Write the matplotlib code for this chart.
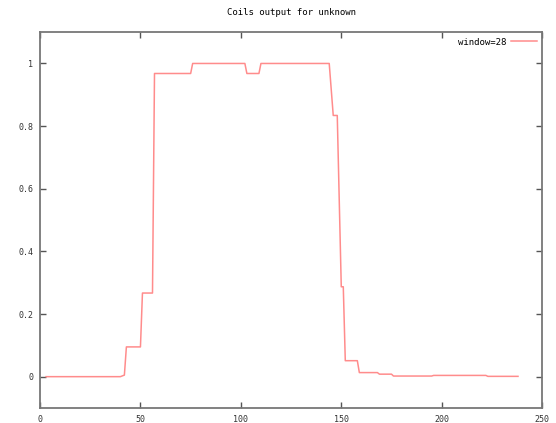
import matplotlib
matplotlib.use("Agg")
import matplotlib.pyplot as plt

# coil output
xs = [3, 40, 42, 43, 50, 51, 56, 57, 75, 76, 102, 103, 109, 110, 144, 146, 148,
      150, 151, 152, 158, 159, 168, 169, 175, 176, 195, 196, 222, 223, 238]
ys = [0, 0, 0.005, 0.095, 0.095, 0.267, 0.267, 0.968, 0.968, 1.0, 1.0, 0.968,
      0.968, 1.0, 1.0, 0.834, 0.834, 0.287, 0.287, 0.051, 0.051, 0.013, 0.013,
      0.008, 0.008, 0.002, 0.002, 0.004, 0.004, 0.001, 0.001]
xticks = [0, 50, 100, 150, 200, 250]
yticks = [0, 0.2, 0.4, 0.6, 0.8, 1]
ytick_labels = ["0", "0.2", "0.4", "0.6", "0.8", "1"]

plt.rcParams["font.family"] = "DejaVu Sans Mono"
fig = plt.figure(figsize=(5.56, 4.23), dpi=100)
ax = fig.add_axes([0.072, 0.0355, 0.903, 0.8885])

ax.plot(xs, ys, color="#ff8c8c", lw=1.1, label="window=28")
ax.set_xlim(0, 250)
ax.set_ylim(-0.1, 1.1)
ax.set_xticks(xticks)
ax.set_yticks(yticks)
ax.set_yticklabels(ytick_labels)
ax.tick_params(direction="in", length=4, width=1, color="#555555",
               labelcolor="#333333", labelsize=6, top=True, right=True, pad=5)
for s in ax.spines.values():
    s.set_color("#777777")
    s.set_linewidth(1.3)

ax.set_title("Coils output for unknown", fontsize=6.5, pad=12)
ax.legend(loc="upper right", frameon=False, fontsize=6.5, markerfirst=False,
          handlelength=2.8, handletextpad=0.6, borderaxespad=0.2)

fig.savefig("out.png", dpi=100)
